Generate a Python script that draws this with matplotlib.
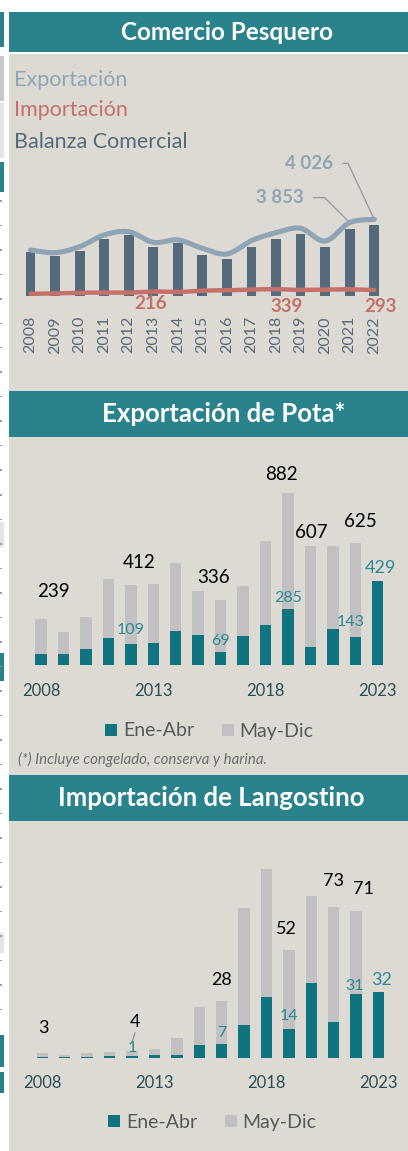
# -*- coding: utf-8 -*-

import numpy as np
import matplotlib
matplotlib.use('Agg')
import matplotlib.pyplot as plt
from matplotlib.patches import Rectangle, Patch
from matplotlib.transforms import blended_transform_factory, offset_copy

plt.rcParams['font.family'] = ['Lato', 'DejaVu Sans']

# ---- Comercio pesquero (millones US$)
years_com = list(range(2008, 2023))
exportacion = [2408, 2265, 2582, 3200, 3374, 2814, 2936, 2497, 2196, 2899, 3321, 3553, 2883, 3853, 4026]
importacion = [90, 120, 150, 160, 160, 216, 190, 260, 280, 320, 339, 300, 320, 330, 293]
balanza = [2307, 2096, 2376, 3009, 3205, 2571, 2761, 2149, 1938, 2550, 2973, 3273, 2550, 3537, 3733]

# ---- Exportacion de pota (millones US$)
years_bar = list(range(2008, 2024))
pota_ene_abr = [58, 56, 85, 139, 109, 112, 177, 155, 69, 151, 204, 285, 95, 187, 143, 429]
pota_may_dic = [181, 114, 163, 302, 303, 302, 347, 226, 267, 252, 432, 597, 512, 422, 482, 0]
pota_total_lbl = [2008, 2012, 2016, 2019, 2020, 2022]
pota_ene_lbl = [2012, 2016, 2019, 2022, 2023]

# ---- Importacion de langostino (millones US$)
lang_ene_abr = [0.8, 0.8, 0.8, 1.0, 1.3, 1.5, 1.6, 6.4, 7.0, 16.1, 29.9, 14.0, 36.5, 17.6, 31.0, 32.0]
lang_may_dic = [2.0, 0.9, 1.6, 2.2, 2.4, 2.9, 8.1, 18.6, 21.0, 56.8, 61.9, 38.4, 42.2, 55.6, 40.2, 0.0]
lang_total_lbl = [2008, 2012, 2016, 2019, 2021, 2022]
lang_ene_lbl = [2012, 2016, 2019, 2022, 2023]

tick_years = [2008, 2013, 2018, 2023]

# label nudges in pixels (dx, dy above the bar top), hand placed like the source
pota_total_nudge = [(12, 27), (8, 22), (-7, 22), (-7, 18), (1, 14), (5, 21)]
pota_ene_nudge = [(0, 14), (0, 11), (0, 11), (-5, 15), (3, 13)]
lang_total_nudge = [(1, 25), (3, 29), (0, 21), (-2, 21), (0, 26), (7, 22)]
lang_ene_nudge = [(0, 8), (0, 11), (0, 13), (-2, 8), (3, 12)]

W, H = 408, 1151
BEIGE = '#DDDAD4'
HDR = '#2A838C'
TEAL = '#0F7480'
GREY = '#C1C1C1'
TEAL_TXT = '#2A8994'
YEAR_TXT = '#2B4F56'
EXP_C = '#8FA4B4'
IMP_C = '#C6706A'
BAL_C = '#556A7A'

fig = plt.figure(figsize=(W / 100, H / 100), dpi=100)
fig.patch.set_facecolor('white')


def fx(px):
    return px / W


def fy(py):
    return 1 - py / H


def px_rect(x0, y0, x1, y1, color):
    fig.add_artist(Rectangle((fx(x0), fy(y1)), (x1 - x0) / W, (y1 - y0) / H,
                             transform=fig.transFigure, facecolor=color, lw=0, zorder=0))


def px_axes(left, right, top, bottom, x0, dx, y0, k):
    ax = fig.add_axes([fx(left), fy(bottom), (right - left) / W, (bottom - top) / H])
    ax.set_xlim((left - x0) / dx, (right - x0) / dx)
    ax.set_ylim((y0 - bottom) / k, (y0 - top) / k)
    ax.axis('off')
    return ax


def smooth(x, y, n=24):
    p = np.column_stack([x, y]).astype(float)
    p = np.vstack([p[0], p, p[-1]])
    t = np.linspace(0, 1, n)[:, None]
    out = []
    for i in range(1, len(p) - 2):
        p0, p1, p2, p3 = p[i - 1], p[i], p[i + 1], p[i + 2]
        c = 0.5 * (2 * p1 + (-p0 + p2) * t + (2 * p0 - 5 * p1 + 4 * p2 - p3) * t ** 2
                   + (-p0 + 3 * p1 - 3 * p2 + p3) * t ** 3)
        out.append(c)
    out = np.vstack(out)
    return out[:, 0], out[:, 1]


# backgrounds, header bars and the cropped strip on the left edge
px_rect(9, 54, 408, 1151, BEIGE)
for y0, y1 in [(12, 52), (391, 437), (775, 821)]:
    px_rect(9, y0, 408, y1, HDR)
for y0, y1, c in [(12, 47, HDR), (56, 101, '#C9C9C9'), (103, 158, '#E4E4E4'), (162, 192, HDR),
                  (522, 547, '#E4E4E4'), (653, 681, HDR), (933, 953, '#E4E4E4'),
                  (1035, 1067, HDR), (1072, 1093, HDR)]:
    px_rect(0, y0, 3.5, y1, c)
for yy in np.arange(200, 1030, 24.5):
    px_rect(0, yy, 1.5, yy + 1.5, '#9A9A9A')

fig.text(fx(227), fy(39.5), 'Comercio Pesquero', color='white', fontsize=17.5,
         fontweight='bold', ha='center', va='baseline')
fig.text(fx(224), fy(421.5), 'Exportación de Pota*', color='white', fontsize=18.5,
         fontweight='bold', ha='center', va='baseline')
fig.text(fx(211), fy(806.5), 'Importación de Langostino', color='white', fontsize=18.5,
         fontweight='bold', ha='center', va='baseline')

fig.text(fx(13.5), fy(86), 'Exportación', color=EXP_C, fontsize=15.5, va='baseline')
fig.text(fx(13.5), fy(116), 'Importación', color=IMP_C, fontsize=15.5, va='baseline')
fig.text(fx(13.5), fy(147.5), 'Balanza Comercial', color=BAL_C, fontsize=15.5, va='baseline')

# ---------------- panel 1
ax1 = px_axes(10, 405, 140, 305, 30.5, 24.55, 295.6, 0.01894)
x1 = np.arange(len(years_com))
ax1.bar(x1, balanza, width=0.4, color=BAL_C, zorder=2)
sx, sy = smooth(x1, exportacion)
ax1.plot(sx, sy, color=EXP_C, lw=3.7, solid_capstyle='round', zorder=3)
sx, sy = smooth(x1, importacion)
ax1.plot(sx, sy, color=IMP_C, lw=3.2, solid_capstyle='round', zorder=3)

blend1 = blended_transform_factory(ax1.transData, fig.transFigure)
for i, yr in enumerate(years_com):
    ax1.text(i, fy(316), str(yr), transform=blend1, rotation=90, ha='center', va='top',
             fontsize=11.5, color=BAL_C)

ax1.annotate('{:,}'.format(exportacion[-1]).replace(',', ' '), xy=(x1[-1], exportacion[-1]),
             xytext=(-41, 56), textcoords='offset pixels', ha='right', va='center',
             fontsize=13.5, fontweight='bold', color=EXP_C,
             arrowprops=dict(arrowstyle='-', color='#9C9C9C', lw=1.0, shrinkA=5, shrinkB=1,
                             connectionstyle='angle,angleA=0,angleB=115,rad=0'))
ax1.annotate('{:,}'.format(exportacion[-2]).replace(',', ' '), xy=(x1[-2], exportacion[-2]),
             xytext=(-46, 25), textcoords='offset pixels', ha='right', va='center',
             fontsize=13.5, fontweight='bold', color=EXP_C,
             arrowprops=dict(arrowstyle='-', color='#9C9C9C', lw=1.0, shrinkA=5, shrinkB=2,
                             connectionstyle='angle,angleA=0,angleB=135,rad=0'))
for yr, (dx, dy) in zip([2013, 2018, 2022], [(-3, -12), (11, -17), (6, -16)]):
    i = years_com.index(yr)
    ax1.annotate(str(importacion[i]), xy=(i, importacion[i]), xytext=(dx, dy),
                 textcoords='offset pixels', ha='center', va='center',
                 fontsize=13.5, fontweight='bold', color=IMP_C)


# ---------------- panels 2 and 3
def stacked_panel(ax, ene, may, total_lbl, total_nudge, ene_lbl, ene_nudge, tick_y,
                  total_fs, ene_fs):
    x = np.arange(len(years_bar))
    ax.bar(x, ene, width=0.51, color=TEAL, zorder=2)
    ax.bar(x, may, bottom=ene, width=0.51, color=GREY, zorder=2)
    blend = blended_transform_factory(ax.transData, fig.transFigure)
    for yr in tick_years:
        ax.text(years_bar.index(yr), fy(tick_y), str(yr), transform=blend, ha='center',
                va='baseline', fontsize=12, color=YEAR_TXT)
    for yr, (dx, dy) in zip(total_lbl, total_nudge):
        i = years_bar.index(yr)
        tot = ene[i] + may[i]
        ax.annotate('{:.0f}'.format(tot), xy=(i, tot), xytext=(dx, dy),
                    textcoords='offset pixels', ha='center', va='center',
                    fontsize=total_fs, color='black', zorder=4)
    for yr, (dx, dy) in zip(ene_lbl, ene_nudge):
        i = years_bar.index(yr)
        fs = ene_fs + 1.5 if yr == 2023 else ene_fs
        ax.annotate('{:.0f}'.format(ene[i]), xy=(i, ene[i]), xytext=(dx, dy),
                    textcoords='offset pixels', ha='center', va='center',
                    fontsize=fs, color=TEAL_TXT, zorder=4)


ax2 = px_axes(10, 405, 450, 670, 41, 22.45, 665.3, 0.1958)
stacked_panel(ax2, pota_ene_abr, pota_may_dic, pota_total_lbl, pota_total_nudge,
              pota_ene_lbl, pota_ene_nudge, 696, 13.5, 11.5)

ax3 = px_axes(10, 405, 850, 1062, 42.3, 22.42, 1058.3, 2.0625)
stacked_panel(ax3, lang_ene_abr, lang_may_dic, lang_total_lbl, lang_total_nudge,
              lang_ene_lbl, lang_ene_nudge, 1088.5, 13, 11.5)
# small leader line of the "1" label in 2012
i12 = years_bar.index(2012)
ax3.annotate('', xy=(i12, lang_ene_abr[i12]),
             xycoords=offset_copy(ax3.transData, fig=fig, x=3, y=23, units='dots'),
             xytext=(i12, lang_ene_abr[i12]),
             textcoords=offset_copy(ax3.transData, fig=fig, x=0, y=13, units='dots'),
             arrowprops=dict(arrowstyle='-', color='#8C8C8C', lw=0.8, shrinkA=0, shrinkB=0))

handles = [Patch(facecolor=TEAL, label='Ene-Abr'), Patch(facecolor=GREY, label='May-Dic')]
for cx, cy in [(209.5, 731), (212.5, 1122.5)]:
    leg = fig.legend(handles=handles, loc='center', bbox_to_anchor=(fx(cx), fy(cy)),
                     ncol=2, frameon=False, fontsize=14, handlelength=0.62,
                     handleheight=0.57, handletextpad=0.3, columnspacing=1.4,
                     borderpad=0, borderaxespad=0)
    for t in leg.get_texts():
        t.set_color('#595959')

fig.text(fx(18), fy(764), '(*) Incluye congelado, conserva y harina.', style='italic',
         color='#6E6E6E', fontsize=10.8, va='baseline')

plt.savefig('out.png', dpi=100, facecolor='white')
